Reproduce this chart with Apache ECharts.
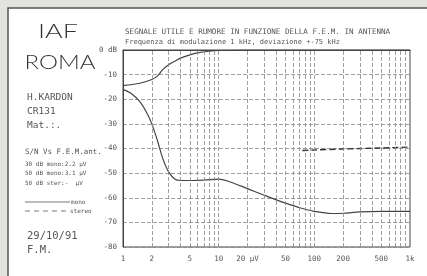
<!DOCTYPE html>
<html>
<head>
<meta charset="utf-8">
<script src="https://cdn.jsdelivr.net/npm/echarts@6/dist/echarts.min.js"></script>
<style>
  html, body { margin: 0; padding: 0; background: #e2e2e0; }
  #main { width: 427px; height: 276px; }
</style>
</head>
<body>
<div id="main"></div>
<script>
// field strength in µV (log axis), levels in dB
var signalMono = [[1, -14.5], [1.5, -13.5], [2, -12], [2.3, -10.5], [2.6, -8], [3, -6], [3.5, -4.5], [4, -3.3], [5, -2], [6, -1.2], [8, -0.5], [10, -0.2], [20, 0], [1000, 0]];
var noiseMono = [[1, -16], [1.2, -17.5], [1.5, -21], [1.8, -26], [2, -30], [2.3, -37], [2.6, -44], [3, -49.5], [3.5, -52.5], [4, -53], [5, -53], [7, -52.8], [10, -52.4], [13, -53.5], [20, -56.3], [30, -59], [50, -62.2], [70, -64], [100, -65.5], [150, -66.4], [200, -66.3], [300, -65.7], [500, -65.5], [1000, -65.5]];
var noiseStereo = [[75, -40.8], [100, -40.6], [200, -40.2], [500, -39.8], [1000, -39.4]];

var xLabels = [1, 2, 5, 10, 20, 50, 100, 200, 500, 1000];
var xGrid = [2, 3, 4, 5, 6, 7, 8, 9, 10, 20, 30, 40, 50, 60, 70, 80, 90, 100, 200, 300, 400, 500, 600, 700, 800, 900];

var sideText = [
  ['H.KARDON', 98],
  ['CR131', 112],
  ['Mat.:.', 126]
];
var notes = [
  ['30 dB mono:2.2 µV', 164],
  ['50 dB mono:3.1 µV', 173],
  ['50 dB ster:-  µV', 183]
];

var mono = 'DejaVu Sans Mono';
var ink = '#555';

var chart = echarts.init(document.getElementById('main'));

var graphics = [
  { type: 'rect', z: -10, shape: { x: 8, y: 8, width: 440, height: 290 },
    style: { fill: '#fff', stroke: '#555', lineWidth: 1.5 } },
  { type: 'text', x: 58, y: 32, scaleX: 1.35, style: { text: 'IAF', font: '300 20px Lato', fill: '#333', align: 'center', verticalAlign: 'middle' } },
  { type: 'text', x: 60, y: 63, scaleX: 1.2, style: { text: 'ROMA', font: '300 20px Lato', fill: '#333', align: 'center', verticalAlign: 'middle' } },
  { type: 'text', x: 25, y: 152, style: { text: 'S/N Vs F.E.M.ant.', font: '7.5px ' + mono, fill: ink, verticalAlign: 'middle' } },
  { type: 'line', shape: { x1: 25, y1: 202, x2: 70, y2: 202 }, style: { stroke: ink, lineWidth: 0.8 } },
  { type: 'text', x: 71, y: 202, style: { text: 'mono', font: '6px ' + mono, fill: ink, verticalAlign: 'middle' } },
  { type: 'line', shape: { x1: 25, y1: 211, x2: 69, y2: 211 }, style: { stroke: ink, lineWidth: 0.8, lineDash: [5, 4] } },
  { type: 'text', x: 70, y: 211, style: { text: 'stereo', font: '6px ' + mono, fill: ink, verticalAlign: 'middle' } },
  { type: 'text', x: 27, y: 236, style: { text: '29/10/91', font: '10.5px ' + mono, fill: ink, verticalAlign: 'middle' } },
  { type: 'text', x: 27, y: 250, style: { text: 'F.M.', font: '10.5px ' + mono, fill: ink, verticalAlign: 'middle' } },
  { type: 'text', x: 125, y: 32, style: { text: 'SEGNALE UTILE E RUMORE IN FUNZIONE DELLA F.E.M. IN ANTENNA', font: '7.6px ' + mono, fill: ink, verticalAlign: 'middle' } },
  { type: 'text', x: 125, y: 42, style: { text: 'Frequenza di modulazione 1 kHz, deviazione +-75 kHz', font: '7px ' + mono, fill: ink, verticalAlign: 'middle' } }
];
sideText.forEach(function (t) {
  graphics.push({ type: 'text', x: 27, y: t[1], style: { text: t[0], font: '9.5px ' + mono, fill: ink, verticalAlign: 'middle' } });
});
notes.forEach(function (t) {
  graphics.push({ type: 'text', x: 25, y: t[1], style: { text: t[0], font: '6px ' + mono, fill: ink, verticalAlign: 'middle' } });
});

chart.setOption({
  animation: false,
  backgroundColor: 'transparent',
  graphic: graphics,
  grid: { left: 123, right: 17, top: 50, bottom: 29, show: true, borderColor: '#444', borderWidth: 1 },
  xAxis: {
    type: 'log', min: 1, max: 1000, logBase: 10,
    axisLine: { lineStyle: { color: '#444' } },
    axisTick: { show: false },
    splitLine: { show: false },
    axisLabel: {
      customValues: xLabels,
      color: ink, fontFamily: mono, fontSize: 7.5, margin: 8,
      formatter: function (v) {
        if (v === 20) return '20 µV';
        if (v === 1000) return '1k';
        return v;
      }
    }
  },
  yAxis: {
    type: 'value', min: -80, max: 0, interval: 10,
    axisLine: { show: true, lineStyle: { color: '#444' } },
    axisTick: { show: false },
    axisLabel: {
      color: ink, fontFamily: mono, fontSize: 7.5, margin: 6,
      formatter: function (v) { return v === 0 ? '0 dB' : v; }
    },
    splitLine: { lineStyle: { color: '#888', width: 0.8, type: [4, 2] } }
  },
  series: [
    {
      name: 'segnale mono', type: 'line', data: signalMono, smooth: 0.35,
      symbol: 'none', lineStyle: { color: '#444', width: 1.2 },
      markLine: {
        silent: true, symbol: 'none', label: { show: false },
        lineStyle: { color: '#888', width: 0.8, type: [4, 2] },
        data: xGrid.map(function (v) { return { xAxis: v }; })
      }
    },
    {
      name: 'rumore mono', type: 'line', data: noiseMono, smooth: 0.35,
      symbol: 'none', lineStyle: { color: '#444', width: 1.2 }
    },
    {
      name: 'rumore stereo', type: 'line', data: noiseStereo, smooth: 0.3,
      symbol: 'none', lineStyle: { color: '#333', width: 1.4, type: [6, 3] }
    }
  ]
});
</script>
</body>
</html>
